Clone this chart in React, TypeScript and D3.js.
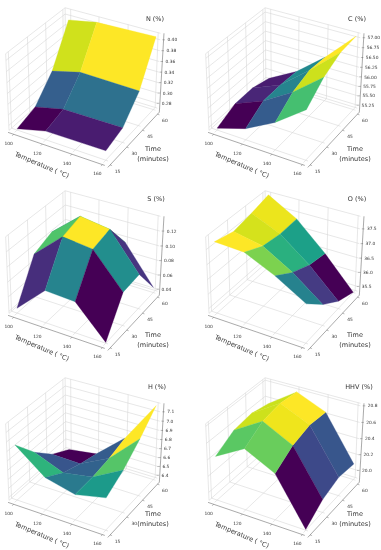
import * as d3 from 'd3';

const tempTicks = [100, 120, 140, 160];
const timeTicks = [15, 30, 45, 60];
const tempsN = [100, 120, 160];

// rows are time (15, 30, 45, 60), columns are temperature
const nValues = [
  [0.273, 0.287, 0.288],
  [0.284, 0.297, 0.298],
  [0.324, 0.338, 0.336],
  [0.395, 0.405, 0.408],
];
const cValues = [
  [55.22, 55.46, 55.87, 56.43],
  [55.44, 55.75, 56.21, 56.81],
  [55.45, 55.76, 56.37, 57.03],
  [55.32, 55.73, 56.33, 57.07],
];
const sValues = [
  [0.0439, 0.0809, 0.079, 0.0383],
  [0.0964, 0.1309, 0.1261, 0.0821],
  [0.1064, 0.1385, 0.1322, 0.084],
  [0.0679, 0.1037, 0.0952, 0.0445],
];
const oValues = [
  [37.75, 37.7, 37.24, 36.65],
  [37.59, 37.39, 36.81, 36.05],
  [37.72, 37.3, 36.53, 35.59],
  [37.89, 37.33, 36.41, 35.34],
];
const hValues = [
  [6.966, 6.719, 6.641, 6.713],
  [6.72, 6.594, 6.648, 6.825],
  [6.53, 6.519, 6.681, 6.986],
  [6.416, 6.463, 6.738, 7.179],
];
const hhvValues = [
  [20.44, 20.64, 20.46, 19.91],
  [20.57, 20.78, 20.6, 20.06],
  [20.6, 20.82, 20.66, 20.13],
  [20.55, 20.79, 20.64, 20.1],
];

const nTicks = [0.28, 0.3, 0.32, 0.34, 0.36, 0.38, 0.4];
const cTicks = [55.25, 55.5, 55.75, 56, 56.25, 56.5, 56.75, 57];
const sTicks = [0.04, 0.06, 0.08, 0.1, 0.12];
const oTicks = [35.5, 36, 36.5, 37, 37.5];
const hTicks = [6.4, 6.5, 6.6, 6.7, 6.8, 6.9, 7.0, 7.1];
const hhvTicks = [20, 20.2, 20.4, 20.6, 20.8];

const panels = [
  { title: 'N (%)', temps: tempsN, values: nValues, zDomain: [0.2705, 0.4118], zTicks: nTicks, fmt: '.2f', dx: 0, dy: 0, titleAt: [155, 19], timeAt: [153, 149] },
  { title: 'C (%)', temps: tempTicks, values: cValues, zDomain: [55.17, 57.11], zTicks: cTicks, fmt: '.2f', dx: 200, dy: 0, titleAt: [157, 19], timeAt: [155, 149] },
  { title: 'S (%)', temps: tempTicks, values: sValues, zDomain: [0.0372, 0.1395], zTicks: sTicks, fmt: '.2f', dx: 0, dy: 183, titleAt: [156, 16], timeAt: [153, 152] },
  { title: 'O (%)', temps: tempTicks, values: oValues, zDomain: [35.33, 37.92], zTicks: oTicks, fmt: '.1f', dx: 200, dy: 183, titleAt: [157, 16], timeAt: [155, 152] },
  { title: 'H (%)', temps: tempTicks, values: hValues, zDomain: [6.367, 7.19], zTicks: hTicks, fmt: '.1f', dx: 0, dy: 370, titleAt: [157, 17], timeAt: [153, 144] },
  { title: 'HHV (%)', temps: tempTicks, values: hhvValues, zDomain: [19.9, 20.83], zTicks: hhvTicks, fmt: '.1f', dx: 200, dy: 370, titleAt: [159, 17], timeAt: [155, 144] },
];

// matplotlib's default 3d view: elev 30, azim -60, box aspect 4:4:3
const elev = (30 * Math.PI) / 180;
const azim = (-60 * Math.PI) / 180;
const boxX = 1.143;
const boxZ = 0.857;
const dist = 10;
const n = [Math.cos(elev) * Math.cos(azim), Math.cos(elev) * Math.sin(azim), Math.sin(elev)];
const u = [-Math.sin(azim), Math.cos(azim), 0];
const v = [-Math.sin(elev) * Math.cos(azim), -Math.sin(elev) * Math.sin(azim), Math.cos(elev)];

const xNorm = d3.scaleLinear().domain([96, 161.5]).range([-boxX / 2, boxX / 2]);
const yNorm = d3.scaleLinear().domain([13, 62]).range([-boxX / 2, boxX / 2]);
const screenX = d3.scaleLinear().domain([-1, 1]).range([84.5 - 97, 84.5 + 97]);
const screenY = d3.scaleLinear().domain([-1, 1]).range([82 + 102, 82 - 102]);

const dot = (a: number[], b: number[]) => a[0] * b[0] + a[1] * b[1] + a[2] * b[2];

function Panel({ p }: { p: (typeof panels)[number] }) {
  const zNorm = d3.scaleLinear().domain(p.zDomain).range([-boxZ / 2, boxZ / 2]);
  const point = (T: number, t: number, z: number) => [xNorm(T), yNorm(t), zNorm(z)];
  const project = (T: number, t: number, z: number): [number, number] => {
    const q = point(T, t, z);
    const f = dist / (dist - dot(q, n));
    return [screenX(dot(q, u) * f), screenY(dot(q, v) * f)];
  };
  const [x0, x1] = xNorm.domain();
  const [y0, y1] = yNorm.domain();
  const [z0, z1] = p.zDomain;
  const line = d3.line();
  // the z axis leans out a little more than the projection gives
  const lean = d3.scaleLinear().domain(p.zDomain).range([0, 3.5]);

  // faces coloured by their mean height, like plot_surface with a cmap
  const faces: { pts: [number, number][]; mean: number; depth: number }[] = [];
  for (let r = 0; r < timeTicks.length - 1; r++) {
    for (let c = 0; c < p.temps.length - 1; c++) {
      const corners: [number, number, number][] = [
        [p.temps[c], timeTicks[r], p.values[r][c]],
        [p.temps[c + 1], timeTicks[r], p.values[r][c + 1]],
        [p.temps[c + 1], timeTicks[r + 1], p.values[r + 1][c + 1]],
        [p.temps[c], timeTicks[r + 1], p.values[r + 1][c]],
      ];
      faces.push({
        pts: corners.map((d) => project(d[0], d[1], d[2])),
        mean: d3.mean(corners, (d) => d[2]) as number,
        depth: d3.mean(corners, (d) => dist - dot(point(d[0], d[1], d[2]), n)) as number,
      });
    }
  }
  const color = d3.scaleSequential(d3.interpolateViridis).domain(d3.extent(faces, (f) => f.mean) as [number, number]);
  faces.sort((a, b) => b.depth - a.depth);

  const grid = (pts: [number, number, number][], key: string) => (
    <path key={key} d={line(pts.map((d) => project(d[0], d[1], d[2]))) as string} fill="none" stroke="#d6d6d6" strokeWidth={0.6} />
  );
  const fmt = d3.format(p.fmt);
  const xStart = project(x0, y0, z0);
  const xEnd = project(x1, y0, z0);
  const yEnd = project(x1, y1, z0);
  const zTop = project(x1, y1, z1);

  return (
    <g transform={`translate(${p.dx},${p.dy})`}>
      {tempTicks.map((T) => grid([[T, y0, z0], [T, y1, z0], [T, y1, z1]], `T${T}`))}
      {timeTicks.map((t) => grid([[x1, t, z0], [x0, t, z0], [x0, t, z1]], `t${t}`))}
      {p.zTicks.map((z) => grid([[x0, y0, z], [x0, y1, z], [x1, y1, z]], `z${z}`))}
      {grid([[x0, y0, z0], [x0, y1, z0], [x1, y1, z0]], 'f')}
      {grid([[x0, y0, z1], [x0, y0, z0]], 'e1')}
      {grid([[x0, y1, z0], [x0, y1, z1], [x1, y1, z1]], 'e2')}
      {grid([[x0, y0, z1], [x0, y1, z1]], 'e3')}

      <g transform="translate(-1,2)">
        <path d={line([xStart, xEnd]) as string} fill="none" stroke="#555" strokeWidth={0.5} />
        {tempTicks.map((T) => {
          const [px, py] = project(T, y0, z0);
          return <line key={T} x1={px} y1={py} x2={px - 1.5} y2={py + 1.5} stroke="#555" strokeWidth={0.4} />;
        })}
      </g>
      <g transform="translate(2,4)">
        <path d={line([xEnd, yEnd]) as string} fill="none" stroke="#555" strokeWidth={0.5} />
        {timeTicks.map((t) => {
          const [px, py] = project(x1, t, z0);
          return <line key={t} x1={px} y1={py} x2={px + 2} y2={py + 0.6} stroke="#555" strokeWidth={0.4} />;
        })}
      </g>
      <path d={line([[yEnd[0] + 2, yEnd[1] + 4], [zTop[0] + 3.5, zTop[1]]]) as string} fill="none" stroke="#555" strokeWidth={0.5} />

      {faces.map((f, i) => (
        <path key={i} d={(line(f.pts) as string) + 'Z'} fill={color(f.mean)} stroke={color(f.mean)} strokeWidth={0.3} />
      ))}

      {tempTicks.map((T) => {
        const [px, py] = project(T, y0, z0);
        return <text key={T} x={px - 6} y={py + 12.5} fontSize={4.4} textAnchor="middle" fill="#333">{T}</text>;
      })}
      {timeTicks.map((t) => {
        const [px, py] = project(x1, t, z0);
        return <text key={t} x={px + 9.5} y={py + 12} fontSize={4.4} textAnchor="middle" fill="#333">{t}</text>;
      })}
      {p.zTicks.map((z) => {
        const [px, py] = project(x1, y1, z);
        const lx = px + lean(z);
        return (
          <g key={z}>
            <line x1={lx - 1} y1={py} x2={lx + 1.5} y2={py} stroke="#555" strokeWidth={0.4} />
            <text x={lx + 4} y={py + 1.6} fontSize={4.4} fill="#333">{fmt(z)}</text>
          </g>
        );
      })}

      <text x={p.titleAt[0]} y={p.titleAt[1] + 2} fontSize={6.5} textAnchor="middle" fill="#333">{p.title}</text>
      <text transform="translate(41,167) rotate(23)" fontSize={6.5} textAnchor="middle" fill="#333">Temperature ( °C)</text>
      <text x={p.timeAt[0]} y={p.timeAt[1] + 2} fontSize={6.5} textAnchor="middle" fill="#333">Time</text>
      <text x={p.timeAt[0]} y={p.timeAt[1] + 12} fontSize={6.5} textAnchor="middle" fill="#333">(minutes)</text>
    </g>
  );
}

export default function App() {
  return (
    <svg width={381} height={550} style={{ position: 'absolute', left: 0, top: 0, fontFamily: '"DejaVu Sans"' }}>
      <defs>
        <filter id="soft" x="0" y="0" width="100%" height="100%">
          <feGaussianBlur stdDeviation={0.3} />
        </filter>
      </defs>
      <rect width={381} height={550} fill="#fff" />
      <g filter="url(#soft)">
        {panels.map((p) => (
          <Panel key={p.title} p={p} />
        ))}
      </g>
    </svg>
  );
}
